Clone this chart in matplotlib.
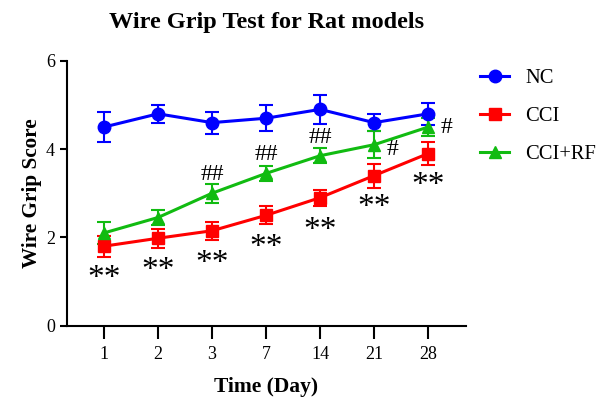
import matplotlib
matplotlib.use("Agg")
import matplotlib.pyplot as plt
from matplotlib.lines import Line2D

plt.rcParams['font.family'] = ['Liberation Serif', 'DejaVu Serif']

days = ["1", "2", "3", "7", "14", "21", "28"]
nc = [4.5, 4.8, 4.6, 4.7, 4.9, 4.6, 4.8]
nc_err = [0.35, 0.2, 0.25, 0.3, 0.32, 0.2, 0.25]
cci = [1.8, 1.98, 2.15, 2.5, 2.9, 3.4, 3.9]
cci_err = [0.24, 0.22, 0.2, 0.2, 0.18, 0.27, 0.27]
rf = [2.1, 2.45, 3.0, 3.45, 3.85, 4.1, 4.5]
rf_err = [0.25, 0.18, 0.22, 0.17, 0.17, 0.3, 0.2]
cci_marks = ["**", "**", "**", "**", "**", "**", "**"]
rf_marks = ["", "", "##", "##", "##", "#", "#"]

fig = plt.figure(figsize=(6.14, 4.03), dpi=100)
ax = fig.add_axes([0.109, 0.192, 0.65, 0.657])
x = list(range(len(days)))

series = [("NC", nc, nc_err, "#0000ff", "o", 9),
          ("CCI", cci, cci_err, "#ff0000", "s", 8.5),
          ("CCI+RF", rf, rf_err, "#11bb11", "^", 8.5)]
for name, y, e, c, m, ms in series:
    ax.errorbar(x, y, yerr=e, color=c, marker=m, markersize=ms, lw=2.2,
                capsize=5, capthick=1.5, elinewidth=1.5, label=name)

for i in x:
    ax.text(i, cci[i] - 0.74, cci_marks[i], ha='center', va='center', fontsize=24)
for i in x:
    if not rf_marks[i]:
        continue
    if rf_marks[i] == "##":
        ax.text(i, rf[i] + 0.42, rf_marks[i], ha='center', va='center', fontsize=17)
    else:
        dy = -0.1 if i == 5 else 0.0
        ax.text(i + 0.34, rf[i] + dy, rf_marks[i], ha='center', va='center', fontsize=17)

ax.set_xlim(-0.685, 6.70)
ax.set_ylim(0, 6)
ax.set_yticks([0, 2, 4, 6])
ax.set_xticks(x)
ax.set_xticklabels(days)
ax.tick_params(axis='x', length=9, width=1.5, labelsize=13, pad=6)
ax.tick_params(axis='y', length=5, width=1.5, labelsize=13)
for s in ['top', 'right']:
    ax.spines[s].set_visible(False)
for s in ['left', 'bottom']:
    ax.spines[s].set_linewidth(1.5)

ax.set_title("Wire Grip Test for Rat models", fontsize=17.5, fontweight='bold', pad=24)
ax.set_xlabel("Time (Day)", fontsize=15.5, fontweight='bold', labelpad=10)
ax.set_ylabel("Wire Grip Score", fontsize=15.3, fontweight='bold', labelpad=3)

handles = [Line2D([], [], color=c, marker=m, markersize=ms, lw=2.2) for _, _, _, c, m, ms in series]
fig.legend(handles, [s[0] for s in series], loc='upper left', bbox_to_anchor=(0.752, 0.875),
           frameon=False, fontsize=14.8, labelspacing=0.9, handlelength=1.4, handletextpad=0.8)

fig.savefig("out.png", dpi=100)
